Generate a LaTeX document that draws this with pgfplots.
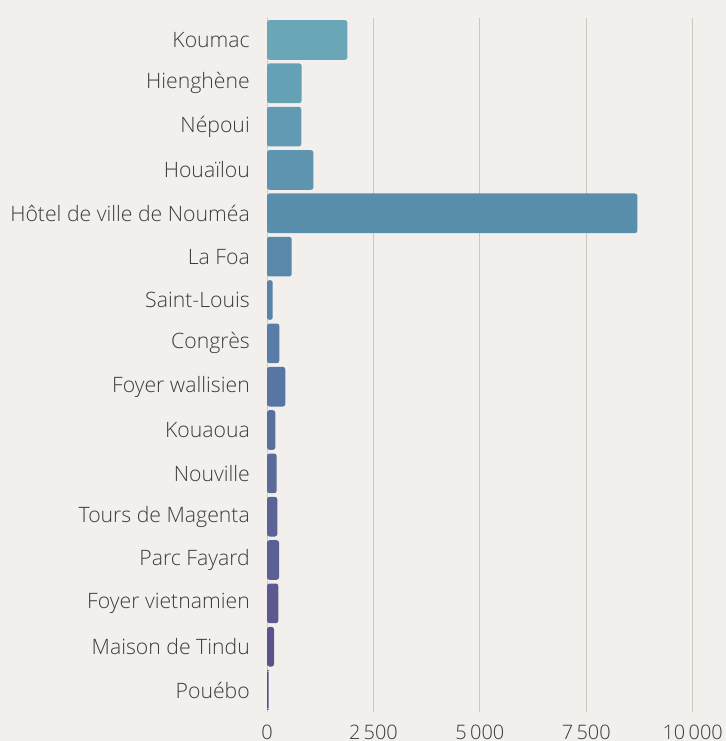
\documentclass[border=0pt]{standalone}
\usepackage{pgfplots}
\pgfplotsset{compat=1.18}
\usepackage{fontspec}
\setmainfont{Open Sans Light}
\definecolor{bg}{HTML}{F2EFEC}
\definecolor{gridc}{HTML}{CBC7C3}
\definecolor{txt}{HTML}{3C3C3C}
\definecolor{cA}{HTML}{69A7B8}
\definecolor{cB}{HTML}{5A8EAD}
\definecolor{cC}{HTML}{5876A3}
\definecolor{cD}{HTML}{5C4D88}
\begin{document}
\begin{tikzpicture}
\fill[bg] (0,0) rectangle (726bp,741bp);
\begin{axis}[
  at={(267bp,29.3bp)}, anchor=south west,
  width=425.7bp, height=693.4bp, scale only axis,
  xmin=0, xmax=10000, ymin=-0.5, ymax=15.5, y dir=reverse,
  xbar, bar width=0.915, bar shift=0pt,
  axis line style={draw=none},
  major tick length=0pt, tick style={draw=none},
  xtick={0,2500,5000,7500,10000},
  ytick={0,...,15},
  yticklabels={Koumac,Hienghène,Népoui,Houaïlou,Hôtel de ville de Nouméa,La Foa,Saint-Louis,Congrès,Foyer wallisien,Kouaoua,Nouville,Tours de Magenta,Parc Fayard,Foyer vietnamien,Maison de Tindu,Pouébo},
  xmajorgrids, grid style={gridc, line width=1bp},
  scaled x ticks=false,
  ticklabel style={text=txt, inner sep=0pt},
  yticklabel style={font=\fontsize{21.3}{25}\selectfont},
  yticklabel shift=17bp,
  xticklabel shift=13bp,
  xticklabel style={font=\fontsize{20}{24}\selectfont, /pgf/number format/.cd, 1000 sep={\,}, assume math mode=true},
  mybar/.style={fill=#1, draw=none, bar shift=0pt, rounded corners=2.5bp},
]
\addplot[mybar=cA] coordinates {(1890,0)};
\addplot[mybar=cB!25!cA] coordinates {(815,1)};
\addplot[mybar=cB!50!cA] coordinates {(805,2)};
\addplot[mybar=cB!75!cA] coordinates {(1090,3)};
\addplot[mybar=cB] coordinates {(8700,4)};
\addplot[mybar=cC!25!cB] coordinates {(580,5)};
\addplot[mybar=cC!50!cB] coordinates {(135,6)};
\addplot[mybar=cC!75!cB] coordinates {(290,7)};
\addplot[mybar=cC] coordinates {(430,8)};
\addplot[mybar=cD!14!cC] coordinates {(195,9)};
\addplot[mybar=cD!29!cC] coordinates {(228,10)};
\addplot[mybar=cD!43!cC] coordinates {(243,11)};
\addplot[mybar=cD!57!cC] coordinates {(282,12)};
\addplot[mybar=cD!71!cC] coordinates {(266,13)};
\addplot[mybar=cD!86!cC] coordinates {(165,14)};
\addplot[mybar=cD] coordinates {(40,15)};
\end{axis}
\pgfresetboundingbox
\path[use as bounding box] (0,0) rectangle (726bp,741bp);
\end{tikzpicture}
\end{document}
